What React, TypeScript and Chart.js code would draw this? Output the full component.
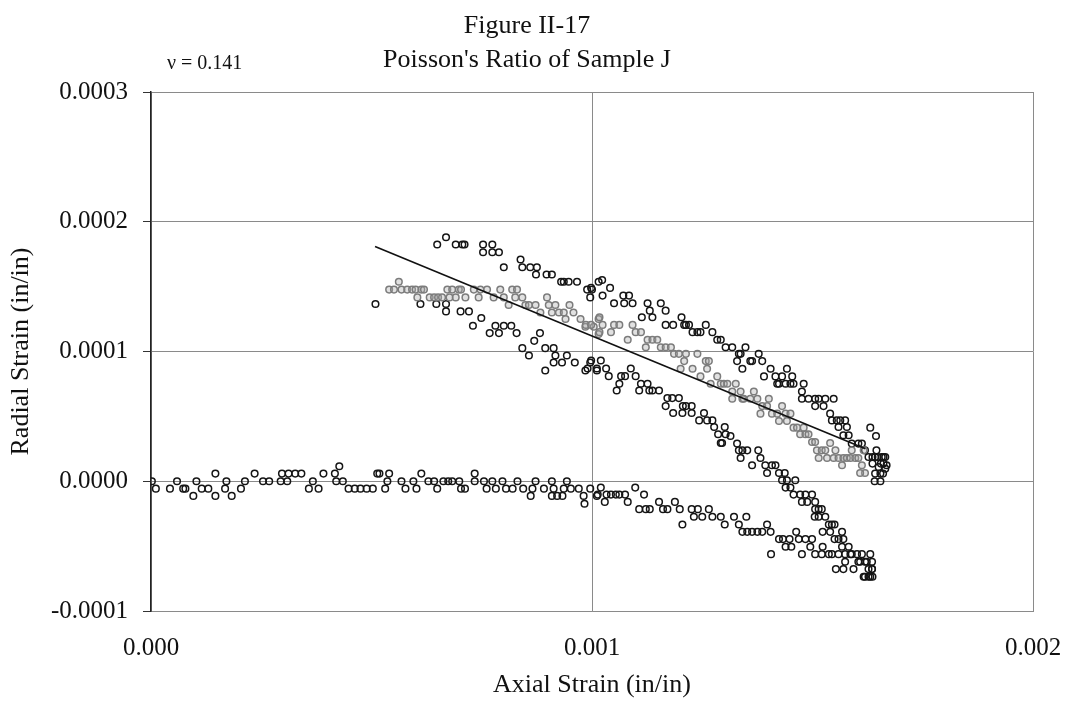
import React, { useEffect, useRef } from 'react';
import { Chart, registerables } from 'chart.js';

Chart.register(...registerables);

const FONT = '"Liberation Serif", "Times New Roman", Times, serif';

const titleLines = ['Figure II-17', "Poisson's Ratio of Sample J"];
const ratioLabel = 'ν = 0.141';
const xAxisTitle = 'Axial Strain (in/in)';
const yAxisTitle = 'Radial Strain (in/in)';
const xTicks = [0, 0.001, 0.002];
const yTicks = [-0.0001, 0, 0.0001, 0.0002, 0.0003];

// Black points: loading path (flat, then bending down)
const loadingPoints: [number, number][] = [
  [2e-6, 0], [1.1e-5, -5.7e-6], [4.3e-5, -5.7e-6], [5.9e-5, 0], [7.3e-5, -5.7e-6], [7.8e-5, -5.7e-6],
  [9.6e-5, -1.13e-5], [1.03e-4, 0], [1.15e-4, -5.7e-6], [1.30e-4, -5.7e-6], [1.46e-4, -1.13e-5], [1.46e-4, 5.9e-6],
  [1.68e-4, -5.7e-6], [1.71e-4, 0], [1.83e-4, -1.13e-5], [2.04e-4, -5.7e-6], [2.13e-4, 0], [2.35e-4, 5.9e-6],
  [2.54e-4, 0], [2.68e-4, 0], [2.94e-4, 0], [2.97e-4, 5.9e-6], [3.09e-4, 0], [3.12e-4, 5.9e-6], [3.27e-4, 5.9e-6],
  [3.41e-4, 5.9e-6], [3.58e-4, -5.7e-6], [3.67e-4, 0], [3.80e-4, -5.7e-6], [3.91e-4, 5.9e-6], [4.17e-4, 5.9e-6],
  [4.20e-4, 0], [4.27e-4, 1.16e-5], [4.35e-4, 0], [4.48e-4, -5.7e-6], [4.62e-4, -5.7e-6], [4.75e-4, -5.7e-6],
  [4.89e-4, -5.7e-6], [5.03e-4, -5.7e-6], [5.13e-4, 5.9e-6], [5.18e-4, 5.9e-6], [5.31e-4, -5.7e-6], [5.36e-4, 0],
  [5.40e-4, 5.9e-6], [5.68e-4, 0], [5.77e-4, -5.7e-6], [5.95e-4, 0], [6.02e-4, -5.7e-6], [6.13e-4, 5.9e-6],
  [6.29e-4, 0], [6.42e-4, 0], [6.49e-4, -5.7e-6], [6.63e-4, 0], [6.74e-4, 0], [6.83e-4, 0], [6.99e-4, 0],
  [7.03e-4, -5.7e-6], [7.12e-4, -5.7e-6], [7.34e-4, 5.9e-6], [7.34e-4, 0], [7.55e-4, 0], [7.61e-4, -5.7e-6],
  [7.74e-4, 0], [7.82e-4, -5.7e-6], [7.97e-4, 0], [8.05e-4, -5.7e-6], [8.20e-4, -5.7e-6], [8.31e-4, 0],
  [8.44e-4, -5.7e-6], [8.61e-4, -1.13e-5], [8.65e-4, -5.7e-6], [8.72e-4, 0], [8.91e-4, -5.7e-6], [9.09e-4, 0],
  [9.09e-4, -1.13e-5], [9.13e-4, -5.7e-6], [9.21e-4, -1.13e-5], [9.33e-4, -1.13e-5], [9.36e-4, -5.7e-6],
  [9.43e-4, 0], [9.52e-4, -5.7e-6], [9.70e-4, -5.7e-6], [9.81e-4, -1.13e-5], [9.83e-4, -1.73e-5],
  [9.96e-4, -5.7e-6], [1.011e-3, -1.13e-5],
  [1.013e-3, -1.03e-5], [1.020e-3, -4.9e-6], [1.029e-3, -1.59e-5], [1.033e-3, -1.03e-5], [1.043e-3, -1.03e-5],
  [1.054e-3, -1.03e-5], [1.062e-3, -1.03e-5], [1.075e-3, -1.03e-5], [1.081e-3, -1.59e-5], [1.098e-3, -4.9e-6],
  [1.107e-3, -2.15e-5], [1.118e-3, -1.03e-5], [1.122e-3, -2.15e-5], [1.131e-3, -2.15e-5], [1.152e-3, -1.59e-5],
  [1.161e-3, -2.15e-5], [1.171e-3, -2.15e-5], [1.188e-3, -1.59e-5], [1.199e-3, -2.15e-5], [1.205e-3, -3.33e-5],
  [1.226e-3, -2.15e-5], [1.231e-3, -2.74e-5], [1.240e-3, -2.15e-5], [1.250e-3, -2.74e-5], [1.265e-3, -2.15e-5],
  [1.273e-3, -2.74e-5], [1.292e-3, -2.74e-5], [1.301e-3, -3.33e-5], [1.322e-3, -2.74e-5], [1.333e-3, -3.33e-5],
  [1.341e-3, -3.90e-5], [1.350e-3, -2.74e-5], [1.352e-3, -3.90e-5], [1.363e-3, -3.90e-5], [1.375e-3, -3.90e-5],
  [1.386e-3, -3.90e-5], [1.397e-3, -3.33e-5], [1.405e-3, -3.90e-5], [1.406e-3, -5.62e-5], [1.424e-3, -4.46e-5],
  [1.433e-3, -4.46e-5], [1.439e-3, -5.05e-5], [1.448e-3, -4.46e-5], [1.452e-3, -5.05e-5], [1.463e-3, -3.90e-5],
  [1.469e-3, -4.46e-5], [1.476e-3, -5.62e-5], [1.484e-3, -4.46e-5], [1.495e-3, -5.05e-5], [1.499e-3, -4.46e-5],
  [1.506e-3, -5.62e-5], [1.521e-3, -5.62e-5], [1.523e-3, -5.05e-5], [1.537e-3, -5.62e-5], [1.544e-3, -5.62e-5],
  [1.553e-3, -6.77e-5], [1.559e-3, -5.62e-5], [1.570e-3, -6.77e-5], [1.574e-3, -6.20e-5], [1.589e-3, -5.62e-5],
  [1.593e-3, -6.77e-5], [1.604e-3, -6.20e-5], [1.612e-3, -5.62e-5], [1.616e-3, -7.36e-5], [1.623e-3, -6.20e-5],
  [1.627e-3, -7.36e-5], [1.631e-3, -5.62e-5], [1.635e-3, -6.77e-5], [1.636e-3, -7.36e-5], [1.635e-3, -6.20e-5],
];

// Black points: unloading path (lower band)
const unloadingPoints: [number, number][] = [
  [5.09e-4, 1.366e-4], [6.11e-4, 1.366e-4], [6.47e-4, 1.366e-4], [6.69e-4, 1.366e-4], [6.69e-4, 1.309e-4],
  [7.02e-4, 1.309e-4], [7.21e-4, 1.309e-4], [7.30e-4, 1.198e-4], [7.49e-4, 1.258e-4], [7.68e-4, 1.142e-4],
  [7.81e-4, 1.198e-4], [7.89e-4, 1.142e-4], [8.00e-4, 1.198e-4], [8.17e-4, 1.198e-4], [8.29e-4, 1.142e-4],
  [8.42e-4, 1.026e-4], [8.57e-4, 9.69e-5], [8.69e-4, 1.082e-4], [8.82e-4, 1.142e-4], [8.94e-4, 1.026e-4],
  [8.94e-4, 8.53e-5], [9.13e-4, 1.026e-4], [9.13e-4, 9.15e-5], [9.17e-4, 9.69e-5], [9.32e-4, 9.15e-5],
  [9.43e-4, 9.69e-5], [9.61e-4, 9.15e-5], [9.85e-4, 8.53e-5], [9.96e-4, 9.15e-5], [1.011e-3, 8.53e-5],
  [9.98e-4, 9.31e-5], [9.90e-4, 8.69e-5], [1.011e-3, 8.69e-5], [1.020e-3, 9.31e-5], [1.032e-3, 8.69e-5],
  [1.038e-3, 8.10e-5], [1.062e-3, 7.51e-5], [1.066e-3, 8.10e-5], [1.056e-3, 7.00e-5], [1.075e-3, 8.10e-5],
  [1.088e-3, 8.69e-5], [1.099e-3, 8.10e-5], [1.107e-3, 7.00e-5], [1.111e-3, 7.51e-5], [1.126e-3, 7.51e-5],
  [1.130e-3, 7.00e-5], [1.137e-3, 7.00e-5], [1.152e-3, 7.00e-5], [1.171e-3, 6.41e-5], [1.182e-3, 6.41e-5],
  [1.197e-3, 6.41e-5], [1.167e-3, 5.79e-5], [1.184e-3, 5.26e-5], [1.206e-3, 5.79e-5], [1.213e-3, 5.79e-5],
  [1.226e-3, 5.79e-5], [1.205e-3, 5.26e-5], [1.226e-3, 5.26e-5], [1.243e-3, 4.69e-5], [1.254e-3, 5.26e-5],
  [1.261e-3, 4.69e-5], [1.273e-3, 4.69e-5], [1.277e-3, 4.18e-5], [1.286e-3, 3.62e-5], [1.301e-3, 4.18e-5],
  [1.303e-3, 3.62e-5], [1.314e-3, 3.49e-5], [1.292e-3, 2.95e-5], [1.295e-3, 2.95e-5], [1.329e-3, 2.90e-5],
  [1.333e-3, 2.38e-5], [1.341e-3, 2.38e-5], [1.352e-3, 2.38e-5], [1.337e-3, 1.79e-5], [1.363e-3, 1.23e-5],
  [1.377e-3, 2.38e-5], [1.382e-3, 1.79e-5], [1.393e-3, 1.23e-5], [1.397e-3, 6.4e-6], [1.408e-3, 1.23e-5],
  [1.416e-3, 1.23e-5], [1.424e-3, 6.4e-6], [1.437e-3, 6.4e-6], [1.431e-3, 8e-7], [1.442e-3, 8e-7],
  [1.461e-3, 8e-7], [1.439e-3, -4.9e-6], [1.450e-3, -4.9e-6], [1.457e-3, -1.03e-5], [1.472e-3, -1.03e-5],
  [1.484e-3, -1.03e-5], [1.476e-3, -1.59e-5], [1.488e-3, -1.59e-5], [1.499e-3, -1.03e-5], [1.506e-3, -1.59e-5],
  [1.506e-3, -2.15e-5], [1.514e-3, -2.15e-5], [1.521e-3, -2.15e-5], [1.505e-3, -2.74e-5], [1.514e-3, -2.74e-5],
  [1.529e-3, -2.74e-5], [1.537e-3, -3.33e-5], [1.544e-3, -3.33e-5], [1.550e-3, -3.33e-5], [1.523e-3, -3.90e-5],
  [1.540e-3, -3.90e-5], [1.550e-3, -4.46e-5], [1.567e-3, -3.90e-5], [1.559e-3, -4.46e-5], [1.570e-3, -4.46e-5],
  [1.567e-3, -5.05e-5], [1.582e-3, -5.05e-5], [1.586e-3, -5.62e-5], [1.574e-3, -5.62e-5], [1.601e-3, -5.62e-5],
  [1.608e-3, -6.20e-5], [1.619e-3, -6.20e-5], [1.627e-3, -6.77e-5], [1.635e-3, -6.77e-5], [1.619e-3, -7.36e-5],
  [1.631e-3, -7.36e-5],
];

// Black points: reloading path (upper band)
const reloadingPoints: [number, number][] = [
  [6.49e-4, 1.825e-4], [6.69e-4, 1.881e-4], [6.91e-4, 1.825e-4], [7.06e-4, 1.825e-4], [7.11e-4, 1.825e-4],
  [7.53e-4, 1.825e-4], [7.53e-4, 1.765e-4], [7.74e-4, 1.825e-4], [7.74e-4, 1.765e-4], [7.89e-4, 1.765e-4],
  [8.00e-4, 1.649e-4], [8.38e-4, 1.709e-4], [8.42e-4, 1.649e-4], [8.60e-4, 1.649e-4], [8.75e-4, 1.649e-4],
  [8.73e-4, 1.593e-4], [8.97e-4, 1.593e-4], [9.09e-4, 1.593e-4], [9.30e-4, 1.538e-4], [9.36e-4, 1.538e-4],
  [9.47e-4, 1.538e-4], [9.66e-4, 1.538e-4], [9.89e-4, 1.477e-4], [9.96e-4, 1.417e-4], [1.000e-3, 1.477e-4],
  [1.015e-3, 1.538e-4], [9.98e-4, 1.490e-4], [1.023e-3, 1.551e-4], [1.024e-3, 1.431e-4], [1.041e-3, 1.490e-4],
  [1.050e-3, 1.372e-4], [1.071e-3, 1.431e-4], [1.073e-3, 1.372e-4], [1.084e-3, 1.431e-4], [1.092e-3, 1.372e-4],
  [1.126e-3, 1.372e-4], [1.131e-3, 1.315e-4], [1.137e-3, 1.264e-4], [1.113e-3, 1.264e-4], [1.156e-3, 1.372e-4],
  [1.167e-3, 1.315e-4], [1.167e-3, 1.205e-4], [1.184e-3, 1.205e-4], [1.203e-3, 1.264e-4], [1.209e-3, 1.205e-4],
  [1.213e-3, 1.205e-4], [1.220e-3, 1.205e-4], [1.228e-3, 1.149e-4], [1.239e-3, 1.149e-4], [1.246e-3, 1.149e-4],
  [1.258e-3, 1.205e-4], [1.273e-3, 1.149e-4], [1.284e-3, 1.090e-4], [1.292e-3, 1.090e-4], [1.303e-3, 1.033e-4],
  [1.318e-3, 1.033e-4], [1.348e-3, 1.033e-4], [1.333e-3, 9.82e-5], [1.329e-3, 9.26e-5], [1.337e-3, 9.82e-5],
  [1.341e-3, 8.67e-5], [1.359e-3, 9.26e-5], [1.363e-3, 9.26e-5], [1.378e-3, 9.82e-5], [1.386e-3, 9.26e-5],
  [1.390e-3, 8.08e-5], [1.405e-3, 8.67e-5], [1.416e-3, 8.08e-5], [1.424e-3, 7.51e-5], [1.431e-3, 8.08e-5],
  [1.442e-3, 8.67e-5], [1.420e-3, 7.51e-5], [1.439e-3, 7.51e-5], [1.450e-3, 7.51e-5], [1.454e-3, 8.08e-5],
  [1.457e-3, 7.51e-5], [1.476e-3, 6.92e-5], [1.480e-3, 7.51e-5], [1.476e-3, 6.36e-5], [1.491e-3, 6.36e-5],
  [1.506e-3, 6.36e-5], [1.514e-3, 6.36e-5], [1.529e-3, 6.36e-5], [1.548e-3, 6.36e-5], [1.506e-3, 5.79e-5],
  [1.525e-3, 5.79e-5], [1.540e-3, 5.21e-5], [1.544e-3, 4.69e-5], [1.555e-3, 4.69e-5], [1.563e-3, 4.69e-5],
  [1.574e-3, 4.69e-5], [1.559e-3, 4.18e-5], [1.578e-3, 4.18e-5], [1.570e-3, 3.54e-5], [1.582e-3, 3.54e-5],
  [1.589e-3, 2.90e-5], [1.604e-3, 2.90e-5], [1.612e-3, 2.90e-5], [1.631e-3, 4.13e-5], [1.644e-3, 3.49e-5],
  [1.619e-3, 2.38e-5], [1.627e-3, 1.87e-5], [1.642e-3, 1.87e-5], [1.657e-3, 1.87e-5], [1.661e-3, 1.36e-5],
  [1.665e-3, 9.7e-6], [1.650e-3, 1.10e-5], [1.668e-3, 1.23e-5], [1.642e-3, 5.9e-6], [1.654e-3, 5.9e-6],
  [1.641e-3, 0], [1.654e-3, 0], [1.636e-3, 1.36e-5], [1.661e-3, 1.87e-5], [1.645e-3, 2.38e-5],
  [1.655e-3, 1.36e-5], [1.648e-3, 1.87e-5], [1.660e-3, 5.9e-6], [1.665e-3, 1.87e-5], [1.636e-3, 1.87e-5],
];

// Gray points: corrected radial strain
const grayPoints: [number, number][] = [
  [5.40e-4, 1.477e-4], [5.51e-4, 1.477e-4], [5.62e-4, 1.538e-4], [5.68e-4, 1.477e-4], [5.81e-4, 1.477e-4],
  [5.92e-4, 1.477e-4], [6.00e-4, 1.477e-4], [6.04e-4, 1.417e-4], [6.13e-4, 1.477e-4], [6.19e-4, 1.477e-4],
  [6.32e-4, 1.417e-4], [6.42e-4, 1.417e-4], [6.51e-4, 1.417e-4], [6.60e-4, 1.417e-4], [6.72e-4, 1.477e-4],
  [6.77e-4, 1.417e-4], [6.83e-4, 1.477e-4], [6.91e-4, 1.417e-4], [6.98e-4, 1.477e-4], [7.03e-4, 1.477e-4],
  [7.13e-4, 1.417e-4], [7.32e-4, 1.477e-4], [7.43e-4, 1.417e-4], [7.47e-4, 1.477e-4], [7.62e-4, 1.477e-4],
  [7.77e-4, 1.417e-4], [7.92e-4, 1.477e-4], [8.00e-4, 1.417e-4], [8.11e-4, 1.358e-4], [8.19e-4, 1.477e-4],
  [8.26e-4, 1.417e-4], [8.30e-4, 1.477e-4], [8.42e-4, 1.417e-4], [8.49e-4, 1.358e-4], [8.57e-4, 1.358e-4],
  [8.72e-4, 1.358e-4], [8.83e-4, 1.301e-4], [8.98e-4, 1.417e-4], [9.02e-4, 1.358e-4], [9.09e-4, 1.301e-4],
  [9.17e-4, 1.358e-4], [9.25e-4, 1.301e-4], [9.36e-4, 1.301e-4], [9.40e-4, 1.250e-4], [9.49e-4, 1.358e-4],
  [9.58e-4, 1.301e-4], [9.74e-4, 1.250e-4], [9.85e-4, 1.191e-4], [1.004e-3, 1.191e-4], [1.015e-3, 1.250e-4],
  [1.015e-3, 1.134e-4], [9.86e-4, 1.205e-4], [9.98e-4, 1.205e-4], [1.017e-3, 1.264e-4], [1.017e-3, 1.149e-4],
  [1.024e-3, 1.205e-4], [1.043e-3, 1.149e-4], [1.050e-3, 1.205e-4], [1.062e-3, 1.205e-4], [1.081e-3, 1.090e-4],
  [1.092e-3, 1.205e-4], [1.099e-3, 1.149e-4], [1.111e-3, 1.149e-4], [1.122e-3, 1.033e-4], [1.126e-3, 1.090e-4],
  [1.137e-3, 1.090e-4], [1.148e-3, 1.090e-4], [1.156e-3, 1.033e-4], [1.167e-3, 1.033e-4], [1.179e-3, 1.033e-4],
  [1.186e-3, 9.82e-5], [1.197e-3, 9.82e-5], [1.201e-3, 8.67e-5], [1.209e-3, 9.26e-5], [1.213e-3, 9.82e-5],
  [1.228e-3, 8.67e-5], [1.239e-3, 9.82e-5], [1.246e-3, 8.08e-5], [1.258e-3, 9.26e-5], [1.261e-3, 8.67e-5],
  [1.265e-3, 9.26e-5], [1.269e-3, 7.51e-5], [1.284e-3, 8.08e-5], [1.292e-3, 7.51e-5], [1.299e-3, 7.51e-5],
  [1.307e-3, 7.51e-5], [1.318e-3, 6.92e-5], [1.318e-3, 6.36e-5], [1.326e-3, 7.51e-5], [1.337e-3, 6.92e-5],
  [1.341e-3, 6.36e-5], [1.344e-3, 6.36e-5], [1.359e-3, 6.36e-5], [1.367e-3, 6.92e-5], [1.375e-3, 6.36e-5],
  [1.382e-3, 5.21e-5], [1.386e-3, 5.79e-5], [1.397e-3, 5.79e-5], [1.401e-3, 6.36e-5], [1.408e-3, 5.21e-5],
  [1.420e-3, 5.21e-5], [1.424e-3, 4.64e-5], [1.431e-3, 5.79e-5], [1.439e-3, 5.21e-5], [1.442e-3, 4.64e-5],
  [1.450e-3, 5.21e-5], [1.457e-3, 4.13e-5], [1.465e-3, 4.13e-5], [1.472e-3, 3.62e-5], [1.480e-3, 4.13e-5],
  [1.484e-3, 3.62e-5], [1.491e-3, 3.62e-5], [1.499e-3, 3.03e-5], [1.506e-3, 3.03e-5], [1.510e-3, 2.38e-5],
  [1.514e-3, 1.79e-5], [1.521e-3, 2.38e-5], [1.529e-3, 2.38e-5], [1.533e-3, 1.79e-5], [1.540e-3, 2.95e-5],
  [1.548e-3, 1.79e-5], [1.552e-3, 2.38e-5], [1.559e-3, 1.79e-5], [1.567e-3, 1.23e-5], [1.570e-3, 1.79e-5],
  [1.578e-3, 1.79e-5], [1.586e-3, 1.79e-5], [1.589e-3, 2.38e-5], [1.597e-3, 1.79e-5], [1.604e-3, 1.79e-5],
  [1.612e-3, 1.23e-5], [1.619e-3, 6.4e-6], [1.608e-3, 6.4e-6], [1.616e-3, 2.38e-5],
];

// Linear fit (slope gives Poisson's ratio)
const fitLine: [number, number][] = [
  [5.08e-4, 1.81e-4],
  [1.62e-3, 2.5e-5],
];

const toXY = (pts: [number, number][]) => pts.map(([x, y]) => ({ x, y }));

const textPlugin = {
  id: 'figureText',
  afterDraw(chart: any) {
    const ctx = chart.ctx;
    ctx.save();
    ctx.fillStyle = '#111';
    ctx.textAlign = 'center';
    ctx.textBaseline = 'alphabetic';
    ctx.font = `26px ${FONT}`;
    ctx.fillText(titleLines[0], 527, 33);
    ctx.fillText(titleLines[1], 527, 67);
    ctx.font = `20px ${FONT}`;
    ctx.textAlign = 'left';
    ctx.fillText(ratioLabel, 167, 69);
    ctx.restore();
  },
};

export default function App() {
  const canvasRef = useRef<HTMLCanvasElement | null>(null);

  useEffect(() => {
    if (!canvasRef.current) return;
    const black = '#151515';
    const gray = '#7c7c7c';
    const pointStyle = {
      showLine: false,
      pointRadius: 3.3,
      pointBorderWidth: 1.5,
      pointHoverRadius: 3.3,
    };
    const chart = new Chart(canvasRef.current, {
      type: 'scatter',
      data: {
        datasets: [
          {
            label: 'Fit',
            data: toXY(fitLine),
            showLine: true,
            borderColor: '#111',
            borderWidth: 1.6,
            pointRadius: 0,
            fill: false,
          },
          {
            label: 'Corrected',
            data: toXY(grayPoints),
            ...pointStyle,
            borderColor: gray,
            backgroundColor: 'rgba(170,170,170,0.35)',
          },
          {
            label: 'Reloading',
            data: toXY(reloadingPoints),
            ...pointStyle,
            borderColor: black,
            backgroundColor: 'rgba(0,0,0,0)',
          },
          {
            label: 'Unloading',
            data: toXY(unloadingPoints),
            ...pointStyle,
            borderColor: black,
            backgroundColor: 'rgba(0,0,0,0)',
          },
          {
            label: 'Loading',
            data: toXY(loadingPoints),
            ...pointStyle,
            borderColor: black,
            backgroundColor: 'rgba(0,0,0,0)',
          },
        ],
      },
      options: {
        responsive: false,
        animation: false,
        layout: { padding: { top: 92, right: 34, left: 0, bottom: 0 } },
        plugins: {
          legend: { display: false },
          tooltip: { enabled: false },
          title: { display: false },
        },
        scales: {
          x: {
            type: 'linear',
            min: xTicks[0],
            max: xTicks[xTicks.length - 1],
            afterBuildTicks: (s: any) => {
              s.ticks = xTicks.map((v) => ({ value: v }));
            },
            afterFit: (s: any) => {
              s.height = 102;
              s.paddingLeft = 0;
              s.paddingRight = 0;
            },
            grid: { color: '#8a8a8a', lineWidth: 1, drawTicks: false },
            border: { color: '#8a8a8a', width: 1 },
            ticks: {
              padding: 22,
              color: '#111',
              maxRotation: 0,
              autoSkip: false,
              font: { family: FONT, size: 25 },
              callback: (v: any) => Number(v).toFixed(3),
            },
            title: {
              display: true,
              text: xAxisTitle,
              color: '#111',
              font: { family: FONT, size: 26 },
              padding: { top: 0, bottom: 12 },
            },
          },
          y: {
            type: 'linear',
            min: yTicks[0],
            max: yTicks[yTicks.length - 1],
            afterBuildTicks: (s: any) => {
              s.ticks = yTicks.map((v) => ({ value: v }));
            },
            afterFit: (s: any) => {
              s.width = 151;
              s.paddingTop = 0;
              s.paddingBottom = 0;
            },
            grid: { color: '#8a8a8a', lineWidth: 1, drawTicks: true, tickLength: 8, tickColor: '#333' },
            border: { color: '#222', width: 1.5 },
            ticks: {
              padding: 15,
              color: '#111',
              autoSkip: false,
              font: { family: FONT, size: 25 },
              callback: (v: any) => Number(v).toFixed(4),
            },
            title: {
              display: true,
              text: yAxisTitle,
              color: '#111',
              font: { family: FONT, size: 26 },
              padding: { top: 6, bottom: 0 },
            },
          },
        },
      },
      plugins: [textPlugin],
    });
    return () => chart.destroy();
  }, []);

  return (
    <div style={{ position: 'fixed', left: 0, top: 0, width: 1067, height: 713, background: '#fff' }}>
      <canvas ref={canvasRef} width={1067} height={713} style={{ display: 'block' }} />
    </div>
  );
}
